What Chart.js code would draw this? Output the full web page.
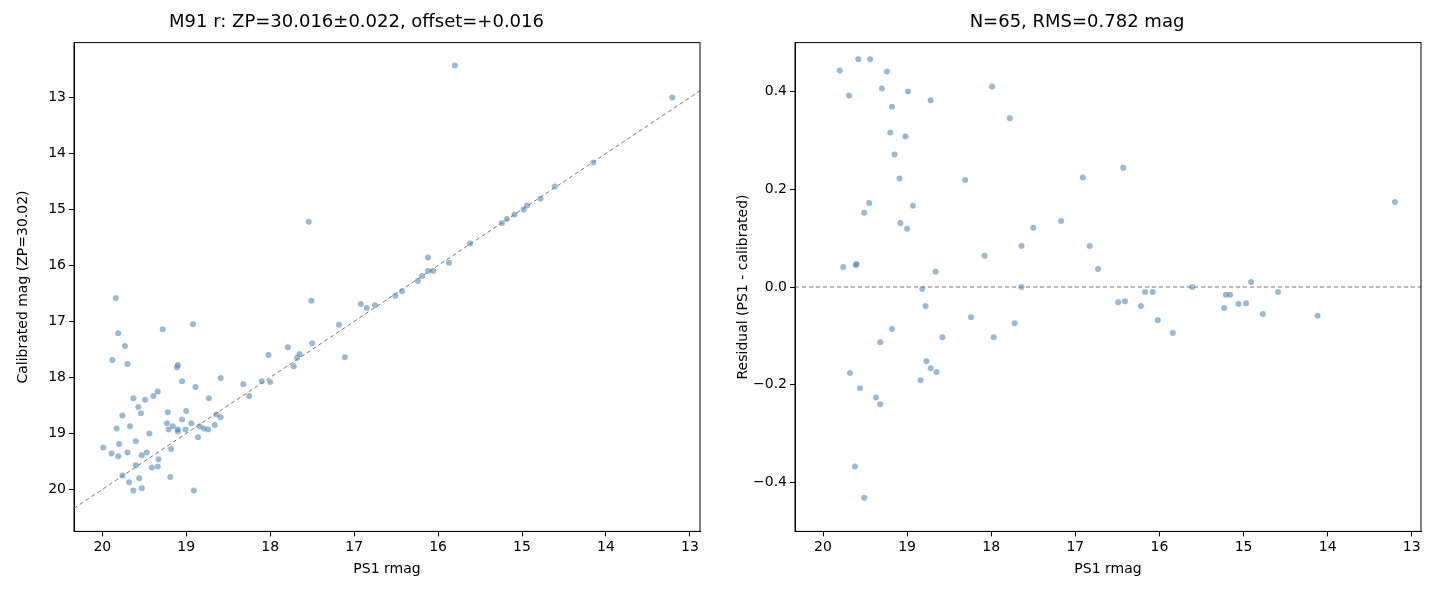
<!DOCTYPE html>
<html>
<head>
<meta charset="utf-8">
<script src="https://cdn.jsdelivr.net/npm/chart.js@4"></script>
<style>
  body { margin: 0; background: #fff; }
  .wrap { position: absolute; top: 0; height: 600px; }
</style>
</head>
<body>
<div class="wrap" style="left:0;width:720px"><canvas id="left"></canvas></div>
<div class="wrap" style="left:720px;width:720px"><canvas id="right"></canvas></div>
<script>
// Left panel: PS1 rmag vs calibrated mag
const calX = [13.21,15.80,14.15,14.61,14.78,14.94,14.98,15.09,15.18,15.24,17.54,15.62,16.12,15.87,16.06,16.12,16.19,16.24,16.43,16.51,
  16.75,16.85,16.92,17.51,17.18,17.11,17.50,17.79,17.65,17.68,18.02,17.72,18.10,18.00,18.32,18.25,18.59,19.84,19.81,19.73,
  19.88,19.70,19.28,18.92,19.11,19.10,19.05,19.34,19.39,19.63,19.49,19.57,19.54,19.76,18.89,18.73,19.00,19.22,19.05,18.64,
  18.59,18.94,18.84,19.23,19.16,19.21,19.10,19.01,18.79,18.74,18.66,19.67,19.83,19.44,18.86,19.10,19.60,19.99,19.80,19.89,
  19.81,19.70,19.53,19.47,19.33,19.18,19.60,19.34,19.41,19.76,19.56,19.19,19.68,19.53,19.63,18.91];
const calY = [13.00,12.43,14.16,14.59,14.81,14.93,15.00,15.09,15.17,15.24,15.22,15.61,15.86,15.95,16.10,16.10,16.19,16.28,16.46,16.54,
  16.71,16.76,16.69,16.63,17.06,17.64,17.39,17.46,17.58,17.65,17.60,17.80,18.07,18.08,18.12,18.33,18.01,16.58,17.21,17.44,
  17.69,17.76,17.14,17.05,17.82,17.78,18.07,18.25,18.33,18.37,18.40,18.53,18.64,18.68,18.17,18.37,18.60,18.62,18.75,18.66,
  18.71,18.82,18.87,18.82,18.87,18.93,18.93,18.93,18.91,18.93,18.85,18.87,18.91,19.00,19.07,18.96,19.14,19.25,19.19,19.36,
  19.41,19.34,19.39,19.34,19.46,19.28,19.57,19.59,19.61,19.75,19.80,19.78,19.87,19.98,20.02,20.02];

// Right panel: residuals (PS1 - calibrated)
const resX = [19.80,19.69,19.58,19.44,19.24,19.30,19.18,19.20,18.99,19.02,18.72,17.99,17.78,19.15,19.09,18.93,19.45,19.51,19.08,19.00,
  18.31,16.91,16.43,17.17,17.50,17.64,16.83,16.73,18.08,19.76,19.61,19.60,18.66,18.82,17.64,15.61,14.91,18.78,16.49,16.41,
  16.17,16.08,16.22,16.02,15.84,15.21,15.16,15.23,15.06,14.97,14.59,14.77,14.12,13.20,18.24,17.72,17.97,19.18,18.58,19.32,
  18.77,18.72,18.65,18.84,19.68,19.56,19.37,19.32,19.62,19.51];
const resY = [0.443,0.392,0.466,0.466,0.441,0.406,0.369,0.316,0.400,0.308,0.382,0.410,0.345,0.271,0.222,0.166,0.172,0.152,0.131,0.119,
  0.219,0.224,0.244,0.135,0.121,0.084,0.084,0.037,0.064,0.041,0.045,0.047,0.031,-0.004,0.000,0.000,0.010,-0.039,-0.031,-0.029,
  -0.010,-0.010,-0.039,-0.068,-0.094,-0.016,-0.016,-0.043,-0.035,-0.033,-0.010,-0.055,-0.059,0.174,-0.062,-0.074,-0.103,-0.086,-0.103,-0.113,
  -0.152,-0.166,-0.174,-0.191,-0.176,-0.207,-0.226,-0.240,-0.367,-0.431];

const magTicks = [20, 19, 18, 17, 16, 15, 14, 13];
const calTicks = [13, 14, 15, 16, 17, 18, 19, 20];
const resTicks = [-0.4, -0.2, 0.0, 0.2, 0.4];

const pointColor = 'rgba(70,130,180,0.55)';
const font = { family: 'DejaVu Sans', size: 14 };

// full box around the plot area, like matplotlib spines
const frame = {
    id: 'frame',
    afterDraw(chart) {
        const { ctx, chartArea: a } = chart;
        ctx.save();
        ctx.strokeStyle = '#000';
        ctx.lineWidth = 1;
        ctx.strokeRect(a.left, a.top, a.right - a.left, a.bottom - a.top);
        ctx.restore();
    }
};

function axis(min, max, reverse, ticks, title, fmt, fitW) {
    const a = {
        type: 'linear', min, max, reverse,
        border: { color: '#000', width: 1 },
        grid: { display: true, drawOnChartArea: false, color: '#000', tickLength: 5 },
        ticks: { color: '#000', font, padding: 3, callback: fmt },
        title: { display: true, text: title, color: '#000', font, padding: 2 },
        afterBuildTicks: s => { s.ticks = ticks.map(v => ({ value: v })); }
    };
    if (fitW) a.afterFit = s => { s.width = fitW; };
    return a;
}

function makeChart(id, xs, ys, line, xAxis, yAxis, title, pad) {
    const pts = xs.map((x, i) => ({ x, y: ys[i] }));
    return new Chart(document.getElementById(id), {
        type: 'scatter',
        data: {
            datasets: [
                { data: pts, backgroundColor: pointColor, borderColor: pointColor, pointRadius: 3, borderWidth: 0 },
                { type: 'line', data: line, borderColor: '#777', borderWidth: 1, borderDash: [4, 3], pointRadius: 0, fill: false }
            ]
        },
        options: {
            responsive: true, maintainAspectRatio: false, animation: false,
            layout: { padding: pad },
            plugins: {
                legend: { display: false }, tooltip: { enabled: false },
                title: { display: true, text: title, color: '#000', font: { family: 'DejaVu Sans', size: 18, weight: 'normal' }, padding: { top: 12, bottom: 9 } }
            },
            scales: { x: xAxis, y: yAxis }
        },
        plugins: [frame]
    });
}

makeChart('left', calX, calY,
    [{ x: 20.337, y: 20.337 }, { x: 12.88, y: 12.88 }],
    axis(12.88, 20.337, true, magTicks, 'PS1 rmag', v => v),
    axis(12.02, 20.75, true, calTicks, 'Calibrated mag (ZP=30.02)', v => v, 61),
    'M91 r: ZP=30.016\u00b10.022, offset=+0.016',
    { left: 13, right: 20, bottom: 20 });

makeChart('right', resX, resY,
    [{ x: 20.333, y: 0 }, { x: 12.89, y: 0 }],
    axis(12.89, 20.333, true, magTicks, 'PS1 rmag', v => v),
    axis(-0.5, 0.5, false, resTicks, 'Residual (PS1 - calibrated)', v => v.toFixed(1).replace('-', '\u2212'), 62),
    'N=65, RMS=0.782 mag',
    { left: 13, right: 19, bottom: 20 });
</script>
</body>
</html>
